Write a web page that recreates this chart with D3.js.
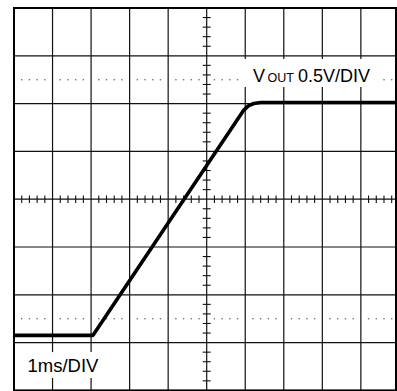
<!DOCTYPE html>
<html>
<head>
<meta charset="utf-8">
<script src="https://cdn.jsdelivr.net/npm/d3@7"></script>
<style>
  html, body { margin: 0; padding: 0; background: #fff; }
  svg { display: block; }
  text { font-family: "Liberation Sans", Arimo, Arial, sans-serif; fill: #000; }
</style>
</head>
<body>
<svg id="scope" width="397" height="391"></svg>
<script>
// Soft-start output ramp captured on a 10 x 8 division graticule
const timeMs = [0, 2.05, 5.95, 6.08, 6.22, 6.4, 10];       // time from left edge, ms
const vout   = [0, 0, 2.35, 2.40, 2.425, 2.435, 2.435];   // output voltage, V
const msPerDiv = 1;
const voltsPerDiv = 0.5;
const timeDomain = [0, 10];          // 10 horizontal divisions
const voltDomain = [-0.576, 3.424];  // 8 vertical divisions, 0 V = ground level
const markerVolts = [-0.576 + 1.5 * voltsPerDiv, -0.576 + 6.5 * voltsPerDiv]; // dotted reference rows
const timeLabel = "1ms/DIV";
const channelName = ["V", "OUT"];
const channelScale = "0.5V/DIV";

const svg = d3.select("#scope");
const frame = { left: 14, top: 8, right: 396, bottom: 390.4 };

const x = d3.scaleLinear().domain(timeDomain).range([14, 399.4]);
const y = d3.scaleLinear().domain(voltDomain).range([390.4, 8]);

const gridColor = "#111";

// major graticule lines
const majorT = d3.range(timeDomain[0] + msPerDiv, timeDomain[1], msPerDiv);
const majorV = d3.range(1, 8).map(k => voltDomain[0] + k * voltsPerDiv);

svg.append("g").selectAll("line").data(majorT).join("line")
  .attr("x1", d => x(d)).attr("x2", d => x(d))
  .attr("y1", frame.top).attr("y2", frame.bottom)
  .attr("stroke", gridColor).attr("stroke-width", 1.2);

svg.append("g").selectAll("line").data(majorV).join("line")
  .attr("x1", frame.left).attr("x2", frame.right)
  .attr("y1", d => y(d)).attr("y2", d => y(d))
  .attr("stroke", gridColor).attr("stroke-width", 1.2);

// minor subdivisions (5 per division)
const minorT = d3.range(0, 50).map(i => timeDomain[0] + i * msPerDiv / 5).filter((d, i) => i % 5 !== 0);
const minorV = d3.range(0, 40).map(i => voltDomain[0] + i * voltsPerDiv / 5).filter((d, i) => i % 5 !== 0);

// dotted reference rows
const dots = [];
markerVolts.forEach(v => minorT.forEach(t => { if (x(t) < frame.right - 1) dots.push([t, v]); }));
svg.append("g").selectAll("rect").data(dots).join("rect")
  .attr("x", d => x(d[0]) - 0.7).attr("y", d => y(d[1]) - 0.7)
  .attr("width", 1.4).attr("height", 1.4)
  .attr("fill", "#777");

// centre cross tick marks
const centreT = (timeDomain[0] + timeDomain[1]) / 2;
const centreV = (voltDomain[0] + voltDomain[1]) / 2;
svg.append("g").selectAll("line").data(minorT).join("line")
  .attr("x1", d => x(d)).attr("x2", d => x(d))
  .attr("y1", y(centreV) - 3.8).attr("y2", y(centreV) + 3.8)
  .attr("stroke", gridColor).attr("stroke-width", 1.1);
svg.append("g").selectAll("line").data(minorV).join("line")
  .attr("x1", x(centreT) - 4).attr("x2", x(centreT) + 4)
  .attr("y1", d => y(d)).attr("y2", d => y(d))
  .attr("stroke", gridColor).attr("stroke-width", 1.1);

// outer frame
svg.append("rect")
  .attr("x", frame.left).attr("y", frame.top)
  .attr("width", frame.right - frame.left).attr("height", frame.bottom - frame.top)
  .attr("fill", "none").attr("stroke", "#000").attr("stroke-width", 2);

// waveform
svg.append("clipPath").attr("id", "screen").append("rect")
  .attr("x", frame.left).attr("y", frame.top)
  .attr("width", frame.right - frame.left).attr("height", frame.bottom - frame.top);

const line = d3.line().x(d => x(d[0])).y(d => y(d[1]));
svg.append("path")
  .datum(d3.zip(timeMs, vout))
  .attr("clip-path", "url(#screen)")
  .attr("d", line)
  .attr("fill", "none").attr("stroke", "#000")
  .attr("stroke-width", 3.6).attr("stroke-linejoin", "round");

// labels on white backing
svg.append("rect").attr("x", 243).attr("y", 59).attr("width", 137).attr("height", 28).attr("fill", "#fff");
svg.append("rect").attr("x", 22).attr("y", 352).attr("width", 84).attr("height", 26).attr("fill", "#fff");

const ch = svg.append("text").attr("x", 253).attr("y", 81.7).attr("font-size", 18);
ch.append("tspan").text(channelName[0]);
ch.append("tspan").attr("x", 267.5).attr("font-size", 12.5).text(channelName[1]);
ch.append("tspan").attr("x", 298).text(channelScale);

svg.append("text").attr("x", 27.5).attr("y", 372.3).attr("font-size", 18.5).text(timeLabel);
</script>
</body>
</html>
